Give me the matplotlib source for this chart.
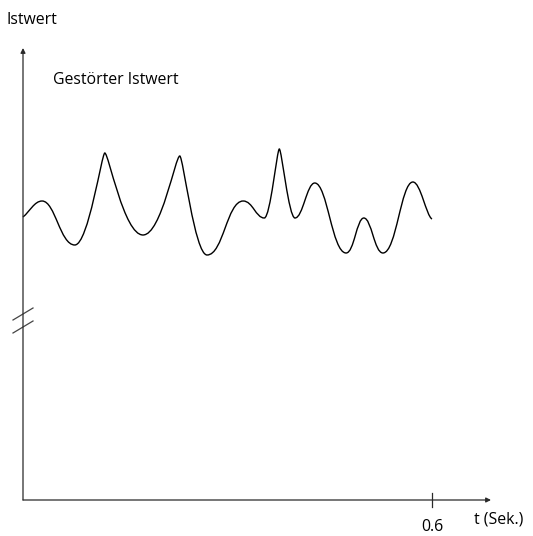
import numpy as np
import matplotlib.pyplot as plt
from matplotlib.path import Path
from matplotlib.patches import PathPatch

# disturbed actual value: turning points of the curve (t in s, value in arb. units)
t_pts = [0.0, 0.028, 0.076, 0.120, 0.176, 0.230, 0.270, 0.323, 0.354,
         0.376, 0.399, 0.428, 0.474, 0.500, 0.528, 0.572, 0.600]
v_pts = [2.83, 2.99, 2.55, 3.47, 2.65, 3.44, 2.45, 2.99, 2.82,
         3.51, 2.82, 3.17, 2.47, 2.82, 2.47, 3.18, 2.81]
slope = [5.5, 0, 0, 0, 0, 0, 0, 0, 0, 0, 0, 0, 0, 0, 0, 0, -3.6]
# handle length per point (share of segment) -> small = sharp peak
handle = [0.35, 0.4, 0.45, 0.1, 0.5, 0.12, 0.45, 0.45, 0.4,
          0.15, 0.4, 0.4, 0.45, 0.4, 0.45, 0.4, 0.3]

x_ticks = [0.6]
x_ticklabels = ['0.6']

W, H = 533, 536
fig = plt.figure(figsize=(W / 100, H / 100), dpi=100)
ax = fig.add_axes([0, 0, 1, 1])
ax.axis('off')

# pixel <-> data mapping
X0, Y0 = 23, 500
SX = 0.6 / 409
SY = 0.01
ax.set_xlim(-X0 * SX, (W - X0) * SX)
ax.set_ylim(-(H - Y0) * SY, Y0 * SY)


def P(px, py):
    return ((px - X0) * SX, (Y0 - py) * SY)


# curve as cubic bezier segments
verts = [(t_pts[0], v_pts[0])]
codes = [Path.MOVETO]
for i in range(len(t_pts) - 1):
    dt = t_pts[i + 1] - t_pts[i]
    h1 = handle[i] * dt
    h2 = handle[i + 1] * dt
    verts += [(t_pts[i] + h1, v_pts[i] + slope[i] * h1),
              (t_pts[i + 1] - h2, v_pts[i + 1] - slope[i + 1] * h2),
              (t_pts[i + 1], v_pts[i + 1])]
    codes += [Path.CURVE4] * 3
ax.add_patch(PathPatch(Path(verts, codes), fill=False, lw=1.0, ec='black'))

axcol = '#2a2a2a'
# axes with arrows
ax.annotate('', xy=P(491, 500), xytext=P(23, 500),
            arrowprops=dict(arrowstyle='-|>', lw=0.9, color=axcol,
                            mutation_scale=7, shrinkA=0, shrinkB=0))
ax.annotate('', xy=P(23, 48), xytext=P(23, 500),
            arrowprops=dict(arrowstyle='-|>', lw=0.9, color=axcol,
                            mutation_scale=7, shrinkA=0, shrinkB=0))

# axis break marks
for (a, b) in [((13, 320), (33, 308)), ((13, 333), (33, 321))]:
    p1, p2 = P(*a), P(*b)
    ax.plot([p1[0], p2[0]], [p1[1], p2[1]], color='#444444', lw=0.9)

fs = 11.4
# tick
for xt, lab in zip(x_ticks, x_ticklabels):
    ax.plot([xt, xt], [P(0, 493)[1], P(0, 507)[1]], color=axcol, lw=0.9)
    ax.text(xt, P(0, 527)[1], lab, ha='center', va='center',
            fontsize=fs, family='Open Sans')

ax.text(*P(474, 519), 't (Sek.)', ha='left', va='center',
        fontsize=fs, family='Open Sans')
ax.text(*P(7, 20), 'Istwert', ha='left', va='center',
        fontsize=fs, family='Open Sans')
ax.text(*P(53, 80), 'Gestörter Istwert', ha='left', va='center',
        fontsize=fs, family='Open Sans')

fig.savefig('out.png', dpi=100)
